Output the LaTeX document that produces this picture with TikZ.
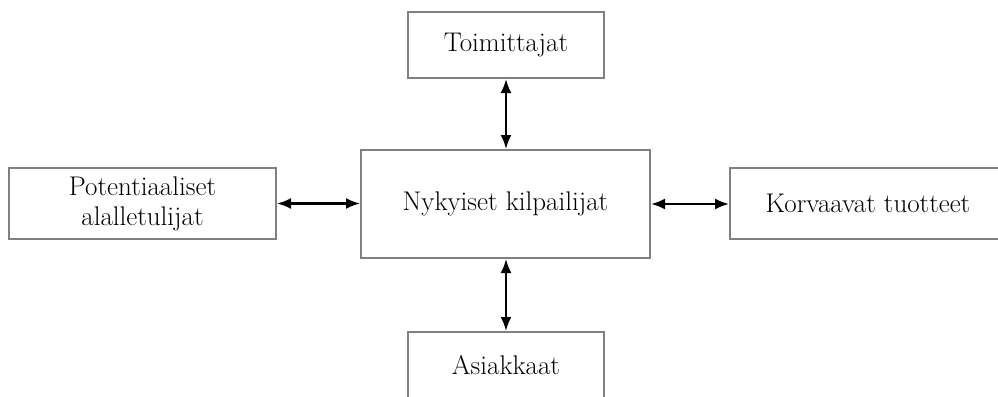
\documentclass[tikz,border=0pt]{standalone}
\usetikzlibrary{arrows.meta}
\begin{document}
\begin{tikzpicture}[x=1pt,y=1pt,
  box/.style={draw=black!50, line width=2pt, fill=white, inner sep=0pt,
    align=center, font=\fontsize{27}{30}\selectfont},
  link/.style={line width=2.2pt, {Latex[length=14pt,width=11pt]}-{Latex[length=14pt,width=11pt]}}]
  \useasboundingbox (0,0) rectangle (998,-396);
  \clip (0,0) rectangle (998,-396);
  \node[box, minimum width=196, minimum height=66] (sup) at (506,-45) {Toimittajat};
  \node[box, minimum width=289, minimum height=108] (cur) at (505.5,-204) {Nykyiset kilpailijat};
  \node[box, minimum width=267, minimum height=71] (ent) at (142.5,-203.5) {Potentiaaliset\\alalletulijat};
  \node[box, minimum width=276, minimum height=71] (sub) at (868,-203.5) {Korvaavat tuotteet};
  \node[box, minimum width=196, minimum height=66] (cus) at (506,-365) {Asiakkaat};
  \draw[link] (sup.south) -- (sup.south |- cur.north);
  \draw[link] (cur.south -| cus.north) -- (cus.north);
  \draw[link] (ent.east) -- (ent.east -| cur.west);
  \draw[link] (cur.east) -- (cur.east -| sub.west);
\end{tikzpicture}
\end{document}
